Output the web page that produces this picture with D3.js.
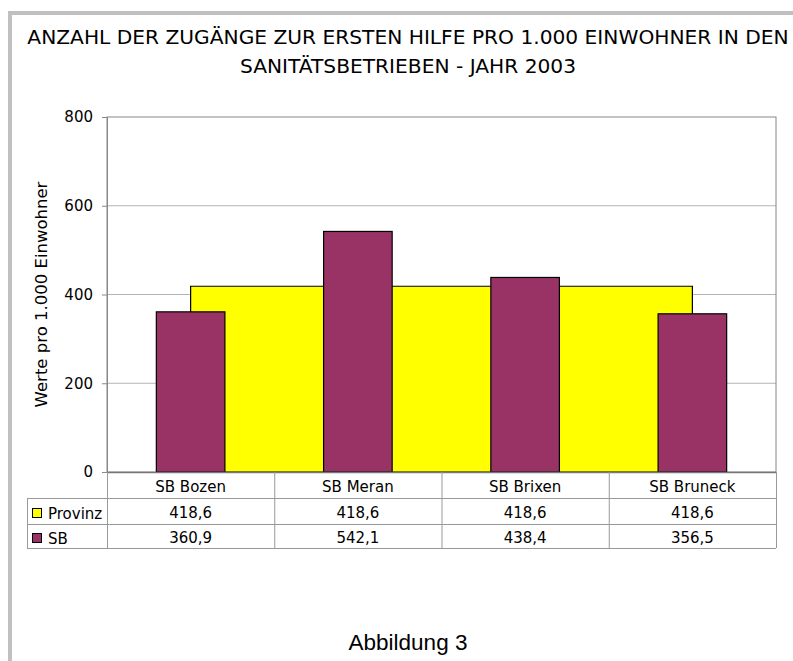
<!DOCTYPE html>
<html>
<head>
<meta charset="utf-8">
<script src="https://cdn.jsdelivr.net/npm/d3@7"></script>
<style>
  body { margin: 0; background: #fff; }
  svg text { font-family: "DejaVu Sans", sans-serif; fill: #000; }
</style>
</head>
<body>
<div id="chart-container"></div>
<script>
// data
const categories = ["SB Bozen", "SB Meran", "SB Brixen", "SB Bruneck"];
const provinz = [418.6, 418.6, 418.6, 418.6];
const sb = [360.9, 542.1, 438.4, 356.5];
const yTicks = [0, 200, 400, 600, 800];
const titleLines = [
  "ANZAHL DER ZUGÄNGE ZUR ERSTEN HILFE PRO 1.000 EINWOHNER IN DEN",
  "SANITÄTSBETRIEBEN - JAHR 2003",
];

const fmt = (v) => v.toFixed(1).replace(".", ",");

// define canvas
const w = 793;
const h = 661;
const plot = { left: 107, right: 776, top: 117, bottom: 472 };

const svg = d3
  .select("#chart-container")
  .append("svg")
  .attr("width", w)
  .attr("height", h);

// outer frame
svg
  .append("path")
  .attr("d", `M10,${h + 5} L10,13 L${w + 5},13`)
  .attr("fill", "none")
  .attr("stroke", "#c0c0c0")
  .attr("stroke-width", 4);

// title
svg
  .append("text")
  .attr("x", 408)
  .attr("text-anchor", "middle")
  .style("font-size", "20.2px")
  .selectAll("tspan")
  .data(titleLines)
  .enter()
  .append("tspan")
  .attr("x", 408)
  .attr("y", (d, i) => 44 + i * 29)
  .text((d) => d);

// scales
const xScale = d3
  .scaleBand()
  .domain(categories)
  .range([plot.left, plot.right]);

const yScale = d3
  .scaleLinear()
  .domain([0, 800])
  .range([plot.bottom, plot.top]);

// gridlines
svg
  .append("g")
  .selectAll("line")
  .data(yTicks.filter((t) => t > 0 && t < 800))
  .enter()
  .append("line")
  .attr("x1", plot.left)
  .attr("x2", plot.right)
  .attr("y1", (d) => yScale(d))
  .attr("y2", (d) => yScale(d))
  .attr("stroke", "#b4b4b4");

// plot border
svg
  .append("rect")
  .attr("x", plot.left)
  .attr("y", plot.top)
  .attr("width", plot.right - plot.left)
  .attr("height", plot.bottom - plot.top)
  .attr("fill", "none")
  .attr("stroke", "#888");

// provinz as a stepped block between category centres
const center = (i) => xScale(categories[i]) + xScale.bandwidth() / 2;
const area = d3
  .area()
  .x((d, i) => center(i))
  .y0(yScale(0))
  .y1((d) => yScale(d))
  .curve(d3.curveStep);

svg
  .append("path")
  .datum(provinz)
  .attr("d", area)
  .attr("fill", "#ffff00")
  .attr("stroke", "#000")
  .attr("stroke-width", 1.2);

// sb bars
const barw = xScale.bandwidth() * 0.41;
svg
  .append("g")
  .selectAll("rect")
  .data(sb)
  .enter()
  .append("rect")
  .attr("x", (d, i) => center(i) - barw / 2)
  .attr("y", (d) => yScale(d))
  .attr("width", barw)
  .attr("height", (d) => yScale(0) - yScale(d))
  .attr("fill", "#993366")
  .attr("stroke", "#000")
  .attr("stroke-width", 1.2);

// y axis
const yAxis = d3.axisLeft(yScale).tickValues(yTicks).tickSize(5).tickPadding(9);
const gy = svg
  .append("g")
  .attr("transform", "translate(" + plot.left + ",0)")
  .call(yAxis);
gy.selectAll("path, line").attr("stroke", "#888");
gy.selectAll("text").style("font-size", "15px").attr("fill", "#000");

// baseline
svg
  .append("line")
  .attr("x1", plot.left)
  .attr("x2", plot.right)
  .attr("y1", plot.bottom + 0.5)
  .attr("y2", plot.bottom + 0.5)
  .attr("stroke", "#777")
  .attr("stroke-width", 1.5);

// y axis title
svg
  .append("text")
  .attr("transform", `translate(47,${(plot.top + plot.bottom) / 2}) rotate(-90)`)
  .attr("text-anchor", "middle")
  .style("font-size", "16.5px")
  .text("Werte pro 1.000 Einwohner");

// data table
const rowTop = [plot.bottom, 498, 524, 548];
const tableLeft = 27;
const gridColor = "#999";
const table = svg.append("g");

// horizontal lines
table
  .selectAll("line.h")
  .data(rowTop.slice(1))
  .enter()
  .append("line")
  .attr("class", "h")
  .attr("x1", tableLeft)
  .attr("x2", plot.right)
  .attr("y1", (d) => d + 0.5)
  .attr("y2", (d) => d + 0.5)
  .attr("stroke", gridColor);

// vertical lines
const edges = categories.map((c) => xScale(c)).concat([plot.right]);
table
  .selectAll("line.v")
  .data(edges)
  .enter()
  .append("line")
  .attr("class", "v")
  .attr("x1", (d) => d + 0.5)
  .attr("x2", (d) => d + 0.5)
  .attr("y1", plot.bottom)
  .attr("y2", rowTop[3])
  .attr("stroke", gridColor);
table
  .append("line")
  .attr("x1", tableLeft + 0.5)
  .attr("x2", tableLeft + 0.5)
  .attr("y1", rowTop[1])
  .attr("y2", rowTop[3])
  .attr("stroke", gridColor);

// header texts
table
  .selectAll("text.cat")
  .data(categories)
  .enter()
  .append("text")
  .attr("x", (d) => xScale(d) + xScale.bandwidth() / 2)
  .attr("y", 492)
  .attr("text-anchor", "middle")
  .style("font-size", "15px")
  .text((d) => d);

// rows
const rows = [
  { name: "Provinz", values: provinz, color: "#ffff00", base: 518 },
  { name: "SB", values: sb, color: "#993366", base: 543 },
];
rows.forEach((r) => {
  table
    .append("rect")
    .attr("x", 32.5)
    .attr("y", r.base - 9.5)
    .attr("width", 9)
    .attr("height", 9)
    .attr("fill", r.color)
    .attr("stroke", "#000");
  table
    .append("text")
    .attr("x", 48)
    .attr("y", r.base + 1)
    .style("font-size", "15px")
    .text(r.name);
  table
    .selectAll(null)
    .data(r.values)
    .enter()
    .append("text")
    .attr("x", (d, i) => center(i))
    .attr("y", r.base)
    .attr("text-anchor", "middle")
    .style("font-size", "15px")
    .text((d) => fmt(d));
});

// caption
svg
  .append("text")
  .attr("x", 408)
  .attr("y", 650)
  .attr("text-anchor", "middle")
  .style("font-family", "'Liberation Sans', Arial, sans-serif")
  .style("font-size", "22.5px")
  .text("Abbildung 3");
</script>
</body>
</html>
